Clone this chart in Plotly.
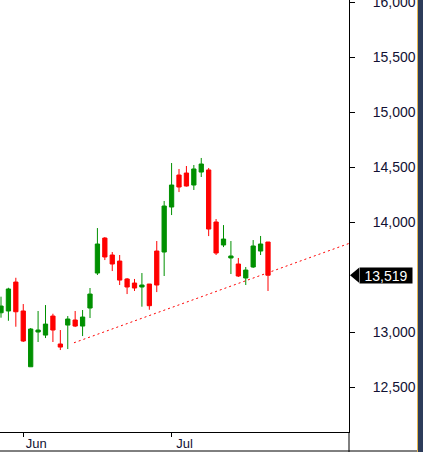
import plotly.graph_objects as go

# ---- data ----
bar_index = list(range(37))
opens = [13178, 13194, 13457, 13194, 12687, 13003, 12975, 13148, 12894, 13066,
         13112, 13057, 13221, 13539, 13857, 13703, 13648, 13485, 13448, 13412,
         13439, 13739, 13730, 14139, 14430, 14448, 14339, 14457, 14476, 14003,
         13794, 13676, 13621, 13494, 13594, 13739, 13821]
highs = [13324, 13405, 13496, 13257, 13039, 13194, 13248, 13169, 13021, 13148,
         13194, 13203, 13403, 13948, 13866, 13730, 13703, 13494, 13485, 13539,
         13439, 13830, 14194, 14539, 14485, 14512, 14521, 14585, 14494, 14030,
         13975, 13830, 13676, 13594, 13839, 13876, 13821]
lows = [13133, 13105, 13051, 12912, 12687, 12912, 12948, 12912, 12839, 12848,
        13048, 12966, 13130, 13521, 13657, 13557, 13430, 13348, 13376, 13233,
        13205, 13366, 13512, 14066, 14275, 14325, 14294, 14412, 13875, 13703,
        13775, 13530, 13503, 13430, 13585, 13703, 13376]
closes = [13239, 13394, 13187, 12921, 13030, 13021, 13075, 13021, 12866, 13121,
          13057, 13139, 13348, 13803, 13685, 13621, 13475, 13412, 13403, 13430,
          13242, 13430, 14148, 14339, 14321, 14330, 14485, 14530, 13939, 13721,
          13848, 13694, 13512, 13566, 13785, 13803, 13519]

month_tick_index = [3, 23]
month_labels = ["Jun", "Jul"]

trend_x = [9.84, 47.5]
trend_y = [12905, 13822]

# 13,500 sits under the last-price label in the reference
y_tick_values = [12500, 13000, 14000, 14500, 15000, 15500, 16000]

last_close = closes[-1]

GREEN = "#009000"
RED = "#ff0000"
FONT = "Arial, Liberation Sans, sans-serif"
TXT = "#111133"

fig = go.Figure()
fig.add_trace(go.Candlestick(
    x=bar_index, open=opens, high=highs, low=lows, close=closes,
    increasing=dict(line=dict(color=GREEN, width=1), fillcolor=GREEN),
    decreasing=dict(line=dict(color=RED, width=1), fillcolor=RED),
    whiskerwidth=0, showlegend=False, hoverinfo="skip",
))
fig.add_trace(go.Scatter(
    x=trend_x, y=trend_y, mode="lines",
    line=dict(color=RED, width=1, dash="2px,3px"),
    showlegend=False, hoverinfo="skip",
))

PW, PH = 349, 432

fig.update_layout(
    width=423, height=452,
    margin=dict(l=0, r=74, t=0, b=20, autoexpand=False),
    paper_bgcolor="white", plot_bgcolor="white",
    boxgap=0.18,
    showlegend=False,
    xaxis=dict(
        range=[-0.135, 46.92],
        automargin=False,
        rangeslider=dict(visible=False),
        showgrid=False, zeroline=False,
        showline=True, linecolor="black", linewidth=1,
        ticks="outside", ticklen=4, tickcolor="black",
        tickvals=month_tick_index, ticktext=month_labels,
        ticklabelshift=13, ticklabelstandoff=-5,
        ticklabeloverflow="allow",
        tickfont=dict(family=FONT, size=13, color=TXT),
        fixedrange=True,
    ),
    yaxis=dict(
        side="right",
        range=[12094, 16021],
        automargin=False,
        showgrid=False, zeroline=False,
        showline=True, linecolor="black", linewidth=1,
        ticks="outside", ticklen=5, tickcolor="black",
        tickvals=y_tick_values, tickformat=",d",
        ticklabelstandoff=15,
        ticklabeloverflow="allow",
        tickfont=dict(family=FONT, size=14, color=TXT),
        fixedrange=True,
    ),
    shapes=[
        dict(type="line", xref="paper", yref="paper",
             x0=1, x1=1, y0=0, y1=-22 / PH,
             line=dict(color="black", width=1)),
        dict(type="line", xref="paper", yref="paper",
             x0=0, x1=418 / PW, y0=-19 / PH, y1=-19 / PH,
             line=dict(color="black", width=1)),
        dict(type="rect", xref="paper", yref="paper",
             x0=417 / PW, x1=440 / PW, y0=-30 / PH, y1=1.05,
             fillcolor="#2d3c5a", line=dict(width=0), layer="above"),
        dict(type="line", xref="paper", yref="paper",
             x0=417.5 / PW, x1=417.5 / PW, y0=-30 / PH, y1=1.05,
             line=dict(color="#e8b850", width=1), layer="above"),
        dict(type="path", xref="paper", yref="y",
             xsizemode="pixel", ysizemode="pixel",
             xanchor=1, yanchor=last_close,
             path="M 1 0 L 10 7.5 L 10 -7.5 Z",
             fillcolor="black", line=dict(width=0), layer="above"),
    ],
    annotations=[
        dict(xref="paper", yref="y", x=359 / PW, y=last_close,
             xanchor="left", yanchor="middle",
             text=f"{last_close:,}", showarrow=False,
             width=52, height=15, align="center",
             bgcolor="black", borderpad=0,
             font=dict(family=FONT, size=14, color="white")),
    ],
)

fig.write_html(
    "out.html",
    config={"displayModeBar": False, "responsive": False},
    post_script="document.body.style.margin='0';document.body.style.overflow='hidden';",
)
